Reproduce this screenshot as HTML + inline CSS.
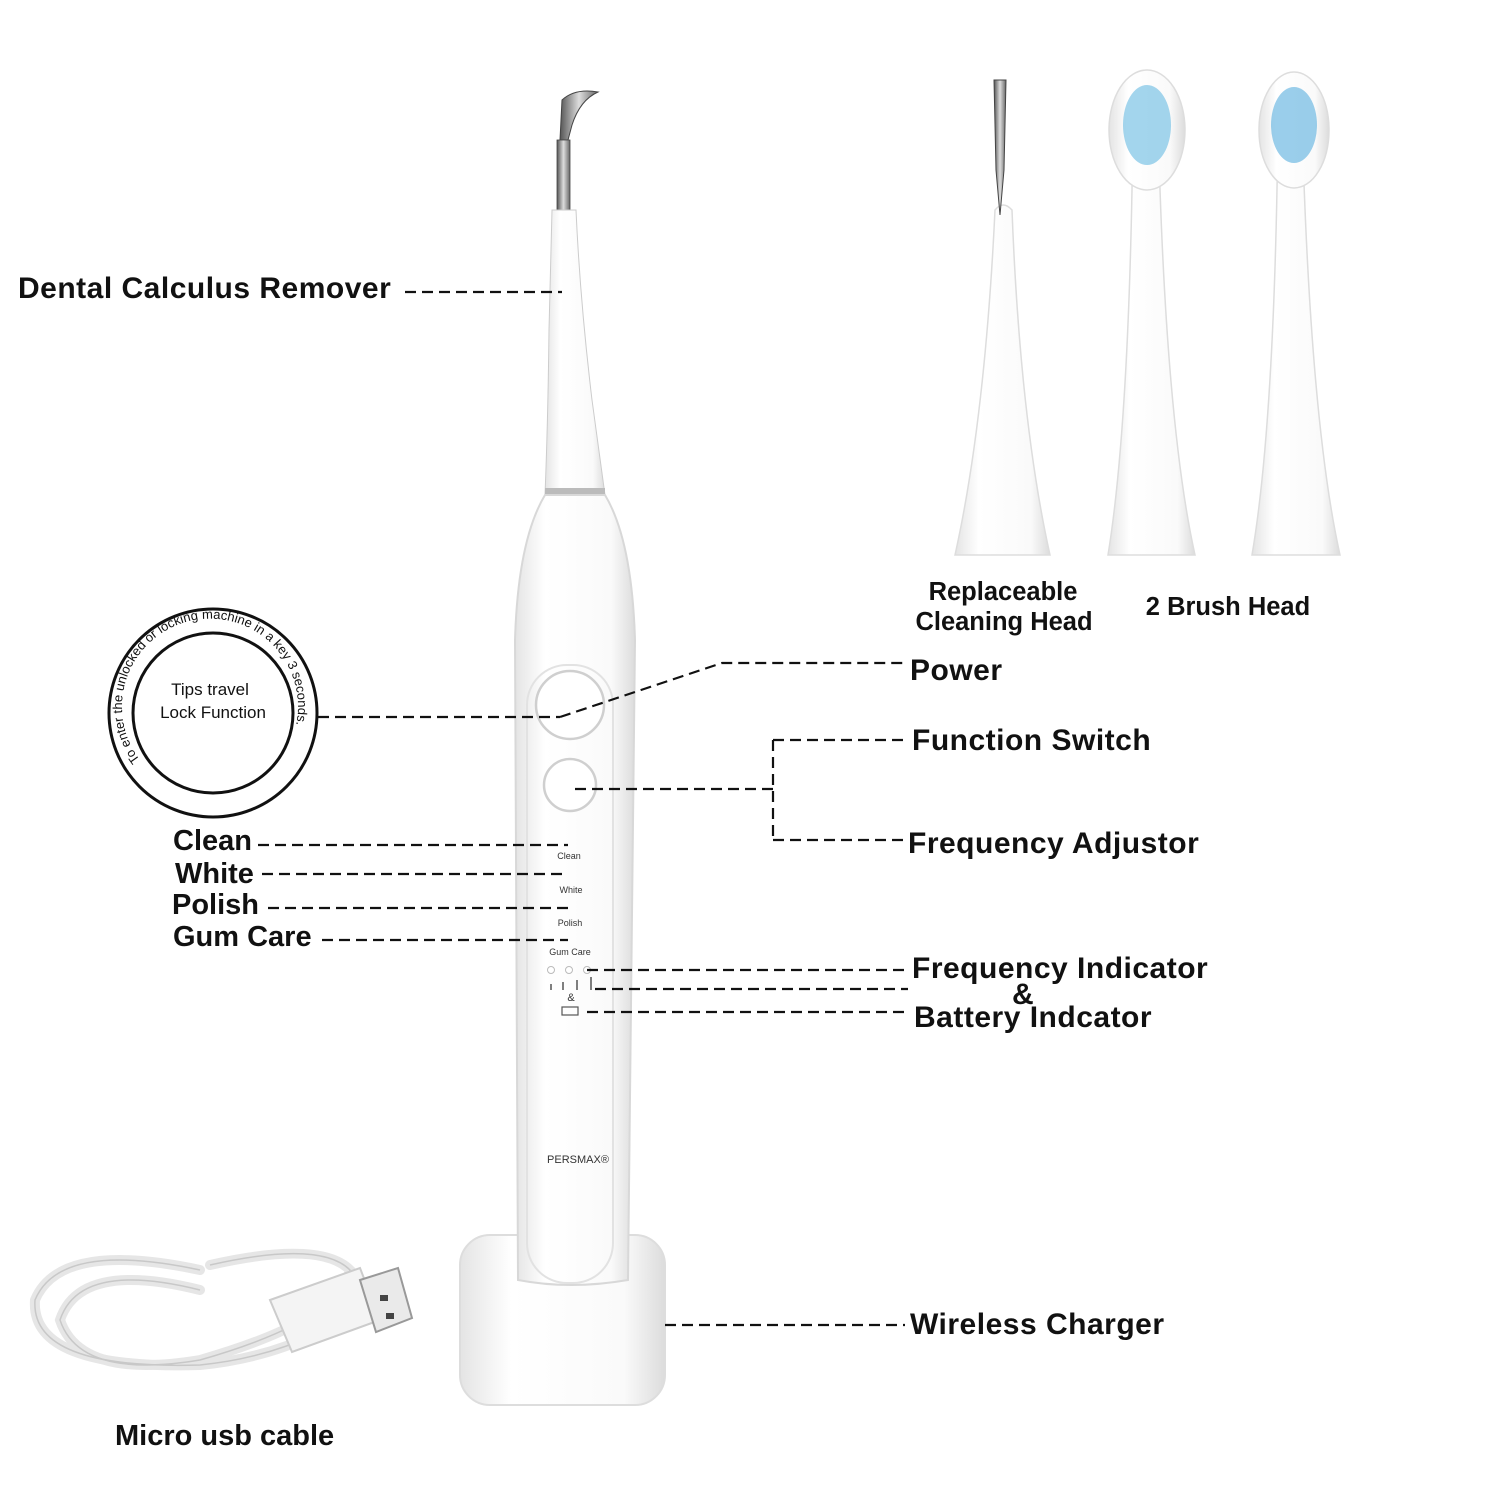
<!DOCTYPE html>
<html><head><meta charset="utf-8"><style>
html,body{margin:0;padding:0;background:#fff;}
svg{display:block;}
text{font-family:"Liberation Sans",Arial,sans-serif;}
.lb{font-weight:bold;font-size:30px;fill:#111;letter-spacing:0.5px;}
.sm{font-weight:bold;font-size:29px;fill:#111;}
.d{stroke:#111;stroke-width:2.2;stroke-dasharray:11 6;fill:none;}
</style></head><body>
<svg width="1500" height="1500" viewBox="0 0 1500 1500" xmlns="http://www.w3.org/2000/svg">
<defs>
<linearGradient id="wb" x1="0" x2="1"><stop offset="0" stop-color="#e4e4e4"/><stop offset="0.25" stop-color="#fff"/><stop offset="0.8" stop-color="#fafafa"/><stop offset="1" stop-color="#dcdcdc"/></linearGradient>
<linearGradient id="mt" x1="0" x2="1"><stop offset="0" stop-color="#555"/><stop offset="0.5" stop-color="#ddd"/><stop offset="1" stop-color="#666"/></linearGradient>
<path id="arc" d="M 140 760 A 88 88 0 1 1 280 760"/>
</defs>

<path d="M562 100 Q575 88 598 92 Q580 100 572 125 L568 140 L560 140 Z" fill="url(#mt)" stroke="#444" stroke-width="1"/>
<rect x="557" y="140" width="13" height="70" fill="url(#mt)" stroke="#444" stroke-width="0.8"/>
<path d="M552 210 L576 210 Q580 300 592 400 Q600 460 605 495 L545 495 Q548 420 549 330 Z" fill="url(#wb)" stroke="#ccc"/>
<rect x="545" y="488" width="60" height="10" fill="#bbb"/>
<rect x="460" y="1235" width="205" height="170" rx="30" fill="url(#wb)" stroke="#ddd" stroke-width="2"/>
<path d="M545 495 L605 495 Q632 540 635 640 L628 1280 Q570 1290 518 1280 L515 640 Q518 540 545 495 Z" fill="url(#wb)" stroke="#d8d8d8" stroke-width="2"/>
<rect x="527" y="665" width="86" height="618" rx="40" fill="none" stroke="#e2e2e2" stroke-width="2"/>
<circle cx="570" cy="705" r="34" fill="#fff" stroke="#cfcfcf" stroke-width="2.5"/>
<circle cx="570" cy="785" r="26" fill="#fff" stroke="#cfcfcf" stroke-width="2.5"/>
<g font-size="9" fill="#333" text-anchor="middle">
<text x="569" y="859">Clean</text><text x="571" y="893">White</text><text x="570" y="926">Polish</text><text x="570" y="955">Gum Care</text>
<text x="571" y="1001" font-size="11">&amp;</text>
<text x="578" y="1163" font-family="Liberation Serif" font-size="11">PERSMAX®</text>
</g>
<g fill="#fff" stroke="#bbb"><circle cx="551" cy="970" r="3.5"/><circle cx="569" cy="970" r="3.5"/><circle cx="587" cy="970" r="3.5"/></g>
<g stroke="#555" stroke-width="1.5"><line x1="551" y1="984" x2="551" y2="990"/><line x1="563" y1="982" x2="563" y2="990"/><line x1="577" y1="980" x2="577" y2="990"/><line x1="591" y1="977" x2="591" y2="990"/></g>
<rect x="562" y="1007" width="16" height="8" fill="none" stroke="#555" stroke-width="1.2"/>

<g fill="url(#wb)" stroke="#ddd" stroke-width="1.5">
<path d="M995 210 Q1003 200 1012 210 Q1020 420 1050 555 L955 555 Q985 420 995 210 Z"/>
<path d="M1133 120 Q1145 110 1158 120 Q1165 420 1195 555 L1108 555 Q1130 420 1133 120 Z"/>
<path d="M1278 120 Q1290 110 1302 120 Q1310 420 1340 555 L1252 555 Q1275 420 1278 120 Z"/>
<ellipse cx="1147" cy="130" rx="38" ry="60"/>
<ellipse cx="1294" cy="130" rx="35" ry="58"/>
</g>
<ellipse cx="1147" cy="125" rx="24" ry="40" fill="#7cc3e6" opacity="0.7"/>
<ellipse cx="1294" cy="125" rx="23" ry="38" fill="#6fb9e3" opacity="0.7"/>
<path d="M994 80 L1006 80 L1004 170 L1000 215 L996 170 Z" fill="url(#mt)" stroke="#444"/>

<circle cx="213" cy="713" r="104" fill="none" stroke="#111" stroke-width="3"/>
<circle cx="213" cy="713" r="80" fill="#fff" stroke="#111" stroke-width="3"/>
<text font-size="13" fill="#111"><textPath href="#arc">To enter the unlocked or locking machine in a key 3 seconds.</textPath></text>
<text x="210" y="695" font-size="17" text-anchor="middle" fill="#111">Tips travel</text>
<text x="213" y="718" font-size="17" text-anchor="middle" fill="#111">Lock Function</text>

<g fill="none" stroke="#e6e6e6" stroke-width="10" stroke-linecap="round">
<path d="M200 1270 Q60 1240 35 1300 Q30 1370 200 1365 Q300 1355 370 1300"/>
<path d="M210 1265 Q320 1240 350 1270 Q340 1320 200 1360 Q80 1380 60 1320 Q80 1260 200 1290"/>
</g>
<g fill="none" stroke="#c8c8c8" stroke-width="1.5">
<path d="M200 1270 Q60 1240 35 1300 Q30 1370 200 1365 Q300 1355 370 1300"/>
<path d="M210 1265 Q320 1240 350 1270 Q340 1320 200 1360 Q80 1380 60 1320 Q80 1260 200 1290"/>
</g>
<path d="M270 1300 L360 1268 L380 1320 L292 1352 Z" fill="#f4f4f4" stroke="#ccc" stroke-width="2"/>
<path d="M360 1280 L398 1268 L412 1318 L376 1332 Z" fill="#eaeaea" stroke="#999" stroke-width="2"/>
<rect x="380" y="1295" width="8" height="6" fill="#444"/><rect x="386" y="1313" width="8" height="6" fill="#444"/>

<line class="d" x1="405" y1="292" x2="562" y2="292"/>
<line class="d" x1="318" y1="717" x2="560" y2="717"/>
<polyline class="d" points="560,717 722,663 905,663"/>
<line class="d" x1="575" y1="789" x2="773" y2="789"/>
<line class="d" x1="773" y1="740" x2="773" y2="840"/>
<line class="d" x1="773" y1="740" x2="905" y2="740"/>
<line class="d" x1="773" y1="840" x2="905" y2="840"/>
<line class="d" x1="258" y1="845" x2="568" y2="845"/>
<line class="d" x1="262" y1="874" x2="568" y2="874"/>
<line class="d" x1="268" y1="908" x2="568" y2="908"/>
<line class="d" x1="322" y1="940" x2="568" y2="940"/>
<line class="d" x1="587" y1="970" x2="908" y2="970"/>
<line class="d" x1="595" y1="989" x2="908" y2="989"/>
<line class="d" x1="587" y1="1012" x2="908" y2="1012"/>
<line class="d" x1="665" y1="1325" x2="905" y2="1325"/>

<text class="lb" x="18" y="298">Dental Calculus Remover</text>
<text class="lb" x="910" y="680">Power</text>
<text class="lb" x="912" y="750">Function Switch</text>
<text class="lb" x="908" y="853">Frequency Adjustor</text>
<text class="lb" x="912" y="978">Frequency Indicator</text>
<text class="lb" x="1012" y="1004">&amp;</text>
<text class="lb" x="914" y="1027">Battery Indcator</text>
<text class="lb" x="910" y="1334">Wireless Charger</text>
<text class="sm" x="173" y="850">Clean</text>
<text class="sm" x="175" y="883">White</text>
<text class="sm" x="172" y="914">Polish</text>
<text class="sm" x="173" y="946">Gum Care</text>
<text class="sm" x="115" y="1445">Micro usb cable</text>
<text class="sm" x="1003" y="600" style="font-size:25.5px" text-anchor="middle">Replaceable</text>
<text class="sm" x="1004" y="630" style="font-size:25.5px" text-anchor="middle">Cleaning Head</text>
<text class="sm" x="1228" y="615" style="font-size:25.5px" text-anchor="middle">2 Brush Head</text>
</svg>
</body></html>
